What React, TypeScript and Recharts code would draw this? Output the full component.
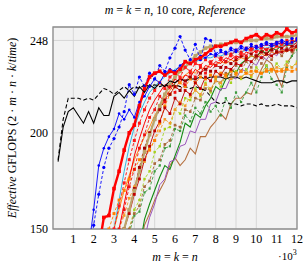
import React from 'react';
import {
  LineChart,
  Line,
  XAxis,
  YAxis,
  CartesianGrid,
  ReferenceArea,
} from 'recharts';

// matrix size in thousands (m = k = n), one sample every 250
const kValues = [
  0.25, 0.5, 0.75, 1, 1.25, 1.5, 1.75, 2, 2.25, 2.5, 2.75, 3, 3.25, 3.5, 3.75, 4,
  4.25, 4.5, 4.75, 5, 5.25, 5.5, 5.75, 6, 6.25, 6.5, 6.75, 7, 7.25, 7.5, 7.75, 8,
  8.25, 8.5, 8.75, 9, 9.25, 9.5, 9.75, 10, 10.25, 10.5, 10.75, 11, 11.25, 11.5, 11.75, 12,
];
const xTicks = [1, 2, 3, 4, 5, 6, 7, 8, 9, 10, 11, 12];
const yTicks = [150, 200, 248];

// each series: first k value, then GFLOPS up to k = 12
const blackSolid = [0.25,
  185, 203, 211, 213, 209, 205, 211, 205, 213, 209, 209, 219,
  221, 218, 222, 219, 224, 221, 225, 223, 226, 224, 227, 226,
  228, 227, 228, 228, 229, 228, 229, 229, 229, 228, 229, 229,
  228, 229, 228, 227, 226, 226, 226, 227, 227, 226, 227, 227];
const blackDashed = [0.25,
  186, 207, 218, 218, 218, 217, 218, 217, 220, 223, 222, 220,
  222, 224, 222, 224, 223, 225, 224, 225, 224, 225, 224, 225,
  224, 224, 223, 224, 223, 222, 219, 216, 215, 216, 215, 215,
  214, 215, 215, 214, 215, 214, 214, 215, 214, 214, 214, 213];
const blueSolid = [1.75,
  140, 160, 183, 192, 198, 202, 210, 207, 212, 208, 216, 219,
  224, 228, 226, 231, 233, 232, 235, 237, 236, 238, 240, 239,
  241, 240, 242, 241, 243, 242, 244, 243, 245, 244, 245, 246,
  245, 246, 247, 246, 247, 248];
const blueDashed = [1.75,
  135, 152, 168, 182, 192, 197, 203, 211, 225, 220, 229, 224,
  231, 228, 235, 232, 239, 244, 250, 243, 238, 246, 238, 249,
  248, 241, 243, 242, 244, 243, 245, 244, 246, 245, 246, 247,
  246, 247, 248, 247, 249, 249];
const redThick = [2.25,
  140, 156, 157, 171, 180, 191, 200, 204, 214, 223, 229, 231,
  232, 230, 232, 231, 233, 237, 236, 238, 239, 241, 243, 245,
  245, 246, 247, 248, 247, 249, 250, 251, 249, 251, 250, 252,
  251, 254, 252, 253];
const redDashed = [3.0,
  150, 162, 174, 186, 196, 205, 212, 218, 222, 226, 223, 229,
  231, 229, 234, 232, 236, 235, 238, 236, 240, 238, 241, 240,
  243, 241, 244, 243, 245, 244, 246, 245, 247, 246, 248, 247, 249];
const redDashed2 = [3.25,
  150, 160, 172, 181, 192, 199, 208, 212, 219, 216, 224, 221,
  228, 225, 231, 229, 234, 231, 237, 235, 239, 237, 241, 239,
  242, 240, 244, 242, 245, 243, 246, 245, 247, 246, 248, 248];
const redThin = [3.25,
  150, 163, 176, 188, 197, 205, 212, 217, 221, 225, 223, 228,
  226, 230, 229, 233, 231, 235, 234, 237, 236, 239, 238, 240,
  239, 242, 241, 243, 242, 244, 243, 245, 244, 246, 245, 247];
const darkRed = [3.5,
  150, 158, 168, 176, 186, 193, 201, 206, 213, 210, 218, 215,
  222, 220, 226, 223, 229, 227, 232, 230, 234, 233, 236, 235,
  238, 237, 240, 239, 241, 240, 242, 242, 243, 243, 245];
const maroon = [3.5,
  150, 160, 171, 182, 192, 200, 207, 212, 217, 220, 224, 222,
  227, 229, 228, 231, 233, 232, 235, 234, 237, 236, 238, 240,
  239, 241, 240, 242, 241, 243, 242, 244, 243, 245, 245];
const tan = [3.5,
  150, 160, 170, 180, 190, 199, 207, 214, 220, 225, 229, 232,
  234, 237, 240, 242, 244, 245, 245, 246, 246, 247, 247, 247,
  248, 248, 248, 249, 249, 249, 250, 250, 250, 250, 251];
const orangeDashed = [2.75,
  150, 158, 165, 170, 176, 181, 186, 190, 191, 196, 205, 214,
  220, 224, 226, 224, 228, 226, 229, 228, 230, 229, 231, 230,
  232, 231, 232, 231, 232, 232, 231, 232, 233, 232, 232, 233,
  232, 233];
const orangeDashed2 = [3.25,
  150, 157, 166, 172, 180, 185, 192, 196, 201, 207, 205, 212,
  216, 214, 219, 222, 220, 225, 223, 227, 226, 229, 228, 230,
  229, 231, 230, 232, 231, 233, 232, 234, 233, 235, 234, 236];
const orangeSolid = [2.75,
  140, 150, 160, 170, 178, 186, 192, 198, 203, 209, 213, 218,
  222, 226, 228, 230, 232, 231, 234, 233, 236, 235, 237, 236,
  238, 237, 239, 238, 240, 239, 241, 240, 242, 241, 243, 242,
  244, 244];
const lime = [3.75,
  150, 160, 165, 176, 180, 190, 193, 202, 203, 212, 210, 218,
  217, 223, 219, 226, 221, 228, 224, 230, 226, 232, 228, 233,
  229, 234, 231, 235, 232, 236, 233, 237, 234, 237];
const brownDashed = [3.75,
  150, 158, 162, 172, 175, 184, 186, 194, 196, 204, 203, 212,
  211, 218, 217, 223, 222, 227, 226, 231, 230, 235, 232, 237,
  234, 239, 236, 241, 238, 243, 240, 244, 242, 245];
const greenDashed = [3.75,
  148, 157, 159, 169, 171, 180, 183, 192, 193, 202, 201, 209,
  206, 213, 210, 216, 211, 214, 209, 218, 213, 221, 216, 221,
  226, 221, 229, 235, 228, 225, 221, 234, 240, 243];
const greenSolid = [4.25,
  140, 155, 163, 170, 177, 183, 181, 188, 195, 205, 203, 210,
  208, 214, 218, 224, 222, 228, 233, 231, 236, 238, 240, 239,
  243, 241, 244, 243, 246, 245, 247, 248];
const brownSolid = [4.25,
  140, 152, 158, 165, 170, 175, 183, 187, 183, 186, 192, 189,
  198, 198, 203, 206, 210, 207, 215, 218, 218, 221, 220, 227,
  233, 238, 236, 230, 224, 236, 240, 246];
const purple = [4.5,
  145, 156, 163, 173, 176, 185, 186, 193, 194, 201, 200, 207,
  207, 215, 216, 223, 223, 229, 228, 233, 232, 237, 235, 240,
  238, 242, 240, 244, 242, 245, 244];
const cyan = [3.0,
  150, 165, 180, 193, 203, 210, 216, 221, 224, 227, 229, 231,
  233, 234, 235, 236, 237, 238, 239, 239, 240, 240, 241, 241,
  242, 242, 243, 243, 243, 244, 244, 245, 245, 245, 246, 246, 247];

const seriesData: Record<string, number[]> = {
  brownSolid, greenSolid, purple, greenDashed, lime, brownDashed, cyan,
  orangeSolid, orangeDashed2, orangeDashed, darkRed, maroon, tan, redThin,
  redDashed2, redDashed, blueSolid, blueDashed, redThick, blackDashed, blackSolid,
};

type Style = { color: string; width: number; dash?: string; marker?: 'dot' | 'square'; size?: number };

const styles: Record<string, Style> = {
  brownSolid: { color: '#b5703f', width: 1.1 },
  greenSolid: { color: '#138a13', width: 1.1 },
  purple: { color: '#9a55bb', width: 1 },
  greenDashed: { color: '#3d9b3d', width: 0.9, dash: '3 2', marker: 'square', size: 2.2 },
  lime: { color: '#a6d21e', width: 0.9, dash: '3 2', marker: 'square', size: 2.4 },
  brownDashed: { color: '#a8683a', width: 0.9, dash: '3 2', marker: 'square', size: 2.6 },
  cyan: { color: '#1ab0e0', width: 0.9 },
  orangeSolid: { color: '#ff8c1a', width: 1 },
  orangeDashed2: { color: '#f39a2a', width: 0.9, dash: '3 2', marker: 'square', size: 2.6 },
  orangeDashed: { color: '#ff8000', width: 0.9, dash: '3 2', marker: 'square', size: 3 },
  darkRed: { color: '#c00000', width: 0.9, marker: 'square', size: 2.8 },
  maroon: { color: '#a30000', width: 0.9, dash: '3 2', marker: 'square', size: 3 },
  tan: { color: '#bba46a', width: 2.2, marker: 'square', size: 3.6 },
  redThin: { color: '#ff0000', width: 1 },
  redDashed2: { color: '#ee1111', width: 0.9, dash: '3 2', marker: 'square', size: 2.8 },
  redDashed: { color: '#ff1a1a', width: 1, dash: '3 2', marker: 'square', size: 3 },
  blueSolid: { color: '#0000ff', width: 0.9, marker: 'dot', size: 1.3 },
  blueDashed: { color: '#0000ff', width: 0.9, dash: '3 2', marker: 'dot', size: 1.6 },
  redThick: { color: '#ff0000', width: 2.4, marker: 'square', size: 3.6 },
  blackDashed: { color: '#000000', width: 1.1, dash: '4 2.5' },
  blackSolid: { color: '#000000', width: 1.1 },
};

const rows = kValues.map((k, i) => {
  const row: Record<string, number | null> = { k };
  for (const [name, arr] of Object.entries(seriesData)) {
    const start = Math.round(arr[0] / 0.25) - 1;
    const v = arr[1 + i - start];
    row[name] = i >= start && v !== undefined ? v : null;
  }
  return row;
});

function makeDot(s: Style) {
  if (!s.marker) return false;
  return (p: any) => {
    const key = `d-${p.index}`;
    if (p.cx == null || p.cy == null || p.value == null) return <g key={key} />;
    const r = s.size ?? 2;
    if (s.marker === 'dot') {
      return <circle key={key} cx={p.cx} cy={p.cy} r={r} fill={s.color} stroke="none" />;
    }
    return (
      <rect key={key} x={p.cx - r / 2} y={p.cy - r / 2} width={r} height={r} fill={s.color} stroke="none" />
    );
  };
}

const serif = "'Liberation Serif', 'DejaVu Serif', serif";

export default function App() {
  return (
    <div style={{ position: 'absolute', left: 0, top: 0, width: 307, height: 265, background: '#fff', fontFamily: serif }}>
      <div style={{ position: 'absolute', left: 175, top: 10, transform: 'translate(-50%, -50%)', whiteSpace: 'nowrap', fontSize: 12 }}>
        <i>m</i> = <i>k</i> = <i>n</i>, 10 core, <i>Reference</i>
      </div>
      <LineChart width={307} height={265} data={rows} margin={{ top: 27, right: 10, bottom: 6, left: 8 }}>
        <CartesianGrid fill="#f2f2f2" stroke="#cfcfcf" strokeWidth={0.8} />
        <XAxis
          dataKey="k"
          type="number"
          domain={[0, 12]}
          ticks={xTicks}
          allowDataOverflow
          axisLine={false}
          tickLine={false}
          tickSize={0}
          tickMargin={5}
          height={30}
          tick={{ fill: '#000', fontSize: 12, fontFamily: serif }}
        />
        <YAxis
          type="number"
          domain={[150, 255]}
          ticks={yTicks}
          allowDataOverflow
          axisLine={false}
          tickLine={false}
          tickSize={0}
          tickMargin={5}
          width={45}
          tick={{ fill: '#000', fontSize: 12, fontFamily: serif }}
        />
        {Object.keys(seriesData).map((name) => {
          const s = styles[name];
          return (
            <Line
              key={name}
              dataKey={name}
              type="linear"
              stroke={s.color}
              strokeWidth={s.width}
              strokeDasharray={s.dash}
              dot={makeDot(s)}
              activeDot={false}
              isAnimationActive={false}
            />
          );
        })}
        <ReferenceArea x1={0} x2={12} y1={150} y2={255} fill="none" stroke="#8f8f8f" strokeWidth={1.3} ifOverflow="visible" />
      </LineChart>
      <div style={{ position: 'absolute', left: 12, top: 128, transform: 'translate(-50%, -50%) rotate(-90deg)', whiteSpace: 'nowrap', fontSize: 12 }}>
        <i>Effective</i> GFLOPS (2 · <i>m</i> · <i>n</i> · <i>k</i>/<i>time</i>)
      </div>
      <div style={{ position: 'absolute', left: 175, top: 257, transform: 'translate(-50%, -50%)', whiteSpace: 'nowrap', fontSize: 12 }}>
        <i>m</i> = <i>k</i> = <i>n</i>
      </div>
      <div style={{ position: 'absolute', left: 278, top: 248, whiteSpace: 'nowrap', fontSize: 11 }}>
        ·10<sup style={{ fontSize: 8 }}>3</sup>
      </div>
    </div>
  );
}
